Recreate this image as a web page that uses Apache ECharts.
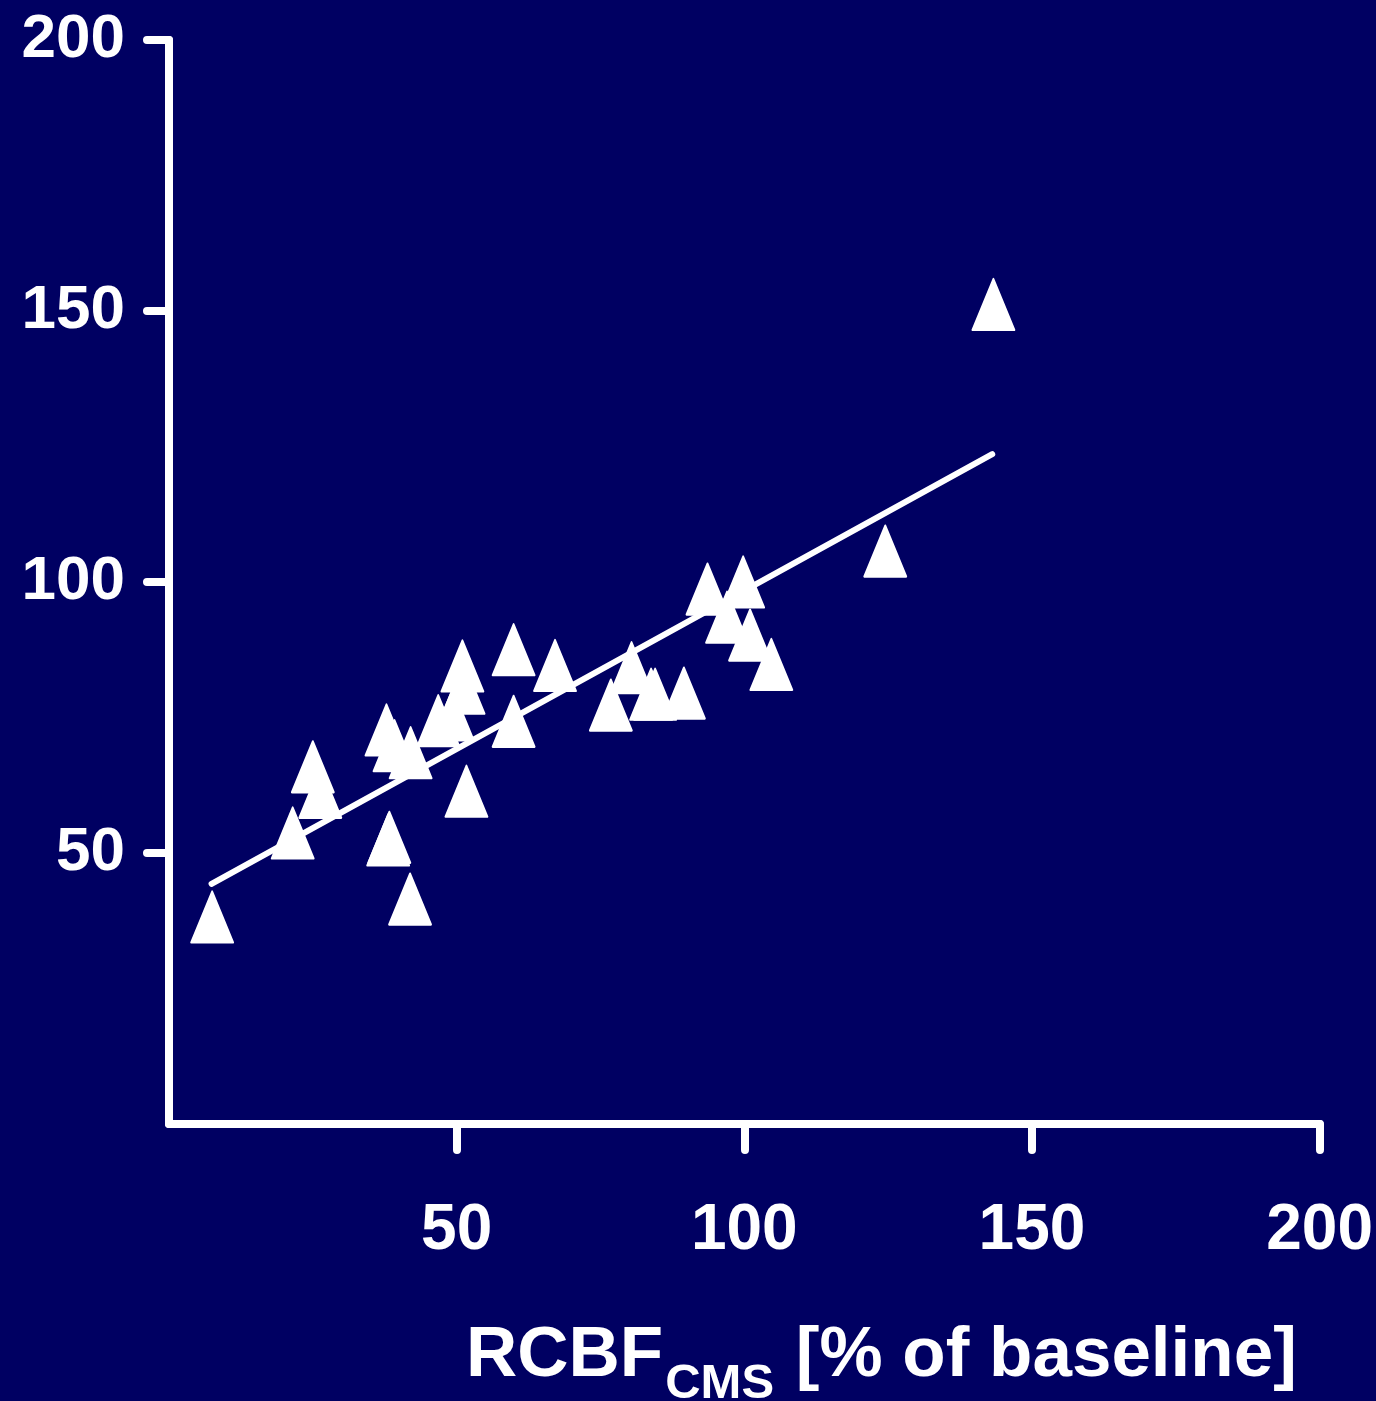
<!DOCTYPE html>
<html>
<head>
<meta charset="utf-8">
<script src="https://cdn.jsdelivr.net/npm/echarts@6/dist/echarts.min.js"></script>
<style>
  html, body { margin: 0; padding: 0; background: #000062; }
  #chart { width: 1376px; height: 1401px; }
</style>
</head>
<body>
<div id="chart"></div>
<script>
// Tick values shown on each axis
const xTicks = [50, 100, 150, 200];
const yTicks = [50, 100, 150, 200];

// Paired measurements: x = RCBF (CMS), y = comparison value, both % of baseline
const rcbfCms = [7.5, 21.5, 25.0, 26.3, 38.1, 38.3, 41.9, 37.8, 39.2, 42.0,
                 46.8, 49.3, 51.0, 51.2, 51.7, 59.9, 59.9, 67.1, 76.8, 80.4,
                 83.8, 84.5, 89.5, 93.6, 99.8, 97.0, 101.0, 104.7, 124.5, 143.3];
const yValues = [38.2, 53.7, 65.9, 61.2, 52.4, 52.9, 41.5, 72.7, 69.8, 68.5,
                 74.4, 75.5, 84.5, 80.4, 61.4, 87.5, 74.3, 84.6, 77.3, 84.2,
                 79.3, 79.3, 79.5, 98.7, 100.0, 93.5, 90.2, 84.8, 105.7, 151.2];

// Regression line end points
const fitX = [7.4, 143.1];
const fitY = [44.3, 123.6];

const FONT = '"Liberation Sans", Arial, Helvetica, sans-serif';
const WHITE = '#ffffff';

const points = rcbfCms.map((x, i) => [x, yValues[i]]);
const fitLine = fitX.map((x, i) => [x, fitY[i]]);

// Axis title pieces: main text with a subscript
const measureCtx = document.createElement('canvas').getContext('2d');
function textWidth(str, size) {
  measureCtx.font = 'bold ' + size + 'px ' + FONT;
  return measureCtx.measureText(str).width;
}
const titleMain = 'RCBF', titleSub = 'CMS', titleRest = ' [% of baseline]';
const mainSize = 71, subSize = 49;
const titleLeft = 466;
const mainBaseline = 1381, subBaseline = 1401;
const w1 = textWidth(titleMain, mainSize);
const w2 = textWidth(titleSub, subSize);
const mid = s => 0.3465 * s; // distance from 'middle' to alphabetic baseline

const axisLine = { show: true, lineStyle: { color: WHITE, width: 8, cap: 'round', join: 'round' } };

const chart = echarts.init(document.getElementById('chart'), null, { renderer: 'canvas' });
chart.setOption({
  backgroundColor: '#000062',
  animation: false,
  grid: { left: 169, right: 55, top: 40, bottom: 277 },
  xAxis: {
    type: 'value',
    min: 0, max: 200, interval: 50,
    axisLine: axisLine,
    axisTick: {
      show: true, length: 26, inside: false,
      customValues: xTicks,
      lineStyle: { color: WHITE, width: 8, cap: 'round' }
    },
    axisLabel: {
      show: true, margin: 75,
      customValues: xTicks,
      color: WHITE, fontFamily: FONT, fontWeight: 'bold', fontSize: 64
    },
    splitLine: { show: false }
  },
  yAxis: {
    type: 'value',
    min: 0, max: 200, interval: 50,
    axisLine: axisLine,
    axisTick: {
      show: true, length: 22, inside: false,
      customValues: yTicks,
      lineStyle: { color: WHITE, width: 8, cap: 'round' }
    },
    axisLabel: {
      show: true, margin: 44,
      customValues: yTicks,
      color: WHITE, fontFamily: FONT, fontWeight: 'bold', fontSize: 62
    },
    splitLine: { show: false }
  },
  series: [
    {
      type: 'line',
      data: fitLine,
      symbol: 'none',
      lineStyle: { color: WHITE, width: 6, cap: 'round' },
      z: 2
    },
    {
      type: 'scatter',
      data: points,
      symbol: 'triangle',
      symbolSize: [42, 51],
      itemStyle: { color: WHITE, borderColor: WHITE, borderWidth: 2, borderJoin: 'round', opacity: 1 },
      z: 3
    }
  ],
  graphic: [
    {
      type: 'text',
      style: {
        text: titleMain, x: titleLeft, y: mainBaseline - mid(mainSize),
        fill: WHITE, font: 'bold ' + mainSize + 'px ' + FONT,
        align: 'left', verticalAlign: 'middle'
      }
    },
    {
      type: 'text',
      style: {
        text: titleSub, x: titleLeft + w1 + 2, y: subBaseline - mid(subSize),
        fill: WHITE, font: 'bold ' + subSize + 'px ' + FONT,
        align: 'left', verticalAlign: 'middle'
      }
    },
    {
      type: 'text',
      style: {
        text: titleRest, x: titleLeft + w1 + w2 + 4, y: mainBaseline - mid(mainSize),
        fill: WHITE, font: 'bold ' + mainSize + 'px ' + FONT,
        align: 'left', verticalAlign: 'middle'
      }
    }
  ]
});
</script>
</body>
</html>
